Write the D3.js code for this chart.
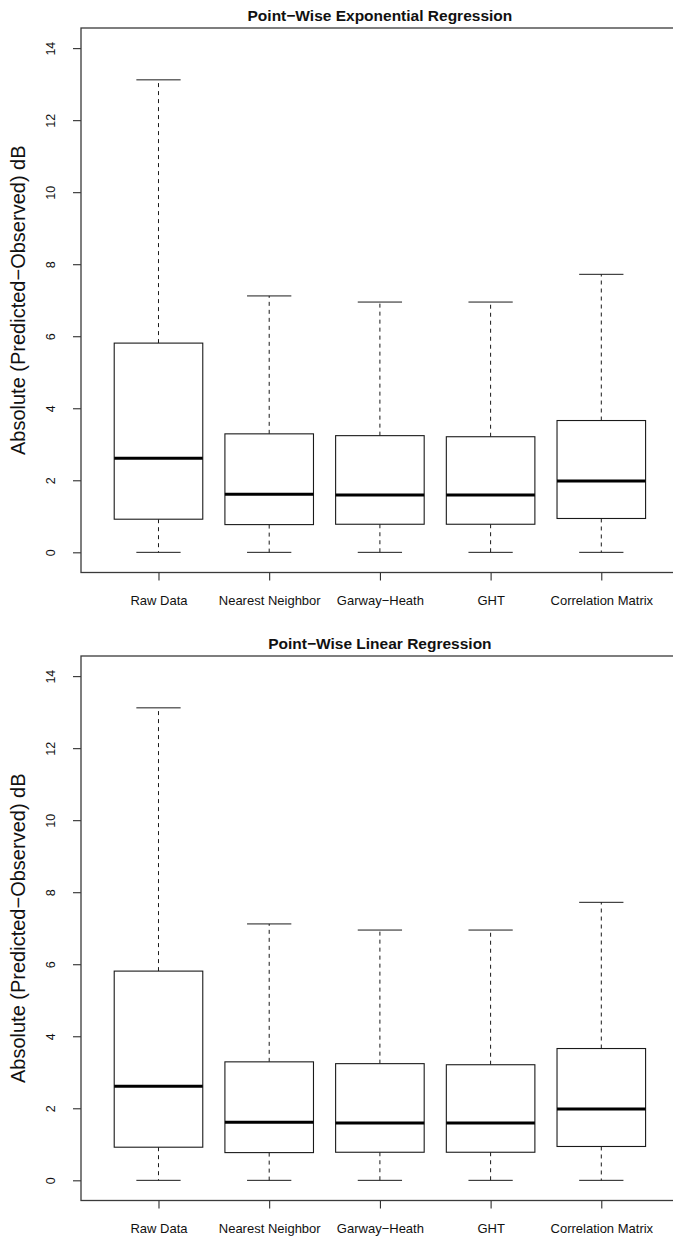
<!DOCTYPE html>
<html>
<head>
<meta charset="utf-8">
<script src="https://cdn.jsdelivr.net/npm/d3@7/dist/d3.min.js"></script>
<style>
  html, body { margin: 0; padding: 0; background: #fff; }
  svg { display: block; }
  text { font-family: "Liberation Sans", Arial, Helvetica, sans-serif; fill: #111; }
</style>
</head>
<body>
<svg id="chart" width="673" height="1237"></svg>
<script>
// ---------- data ----------
const categories = ["Raw Data", "Nearest Neighbor", "Garway\u2212Heath", "GHT", "Correlation Matrix"];
const panelTitles = ["Point\u2212Wise Exponential Regression", "Point\u2212Wise Linear Regression"];
const yLabel = "Absolute (Predicted\u2212Observed) dB";
const yTicks = [0, 2, 4, 6, 8, 10, 12, 14];

// panel 1: exponential regression
const expLower  = [0.00, 0.00, 0.00, 0.00, 0.00];
const expQ1     = [0.92, 0.77, 0.78, 0.78, 0.94];
const expMedian = [2.61, 1.61, 1.59, 1.59, 1.98];
const expQ3     = [5.81, 3.29, 3.24, 3.21, 3.66];
const expUpper  = [13.12, 7.12, 6.95, 6.95, 7.72];

// panel 2: linear regression
const linLower  = [0.00, 0.00, 0.00, 0.00, 0.00];
const linQ1     = [0.92, 0.77, 0.78, 0.78, 0.94];
const linMedian = [2.61, 1.61, 1.59, 1.59, 1.98];
const linQ3     = [5.81, 3.29, 3.24, 3.21, 3.66];
const linUpper  = [13.12, 7.12, 6.95, 6.95, 7.72];

const panels = [
  { title: panelTitles[0], lower: expLower, q1: expQ1, med: expMedian, q3: expQ3, upper: expUpper, top: 28, bottom: 572.5 },
  { title: panelTitles[1], lower: linLower, q1: linQ1, med: linMedian, q3: linQ3, upper: linUpper, top: 656, bottom: 1200.5 }
];

// ---------- drawing ----------
const svg = d3.select("#chart");
const left = 81, right = 678.8;
const ink = "#1a1a1a";

const x = d3.scaleLinear().domain([0.3, categories.length + 0.7]).range([left, right]);
const unit = x(2) - x(1);
const boxW = 0.8 * unit;
const capW = 0.4 * unit;

panels.forEach(p => {
  const g = svg.append("g");
  const y = d3.scaleLinear().domain([-0.56, 14.56]).range([p.bottom, p.top]);

  // title
  g.append("text")
    .attr("x", (left + right) / 2)
    .attr("y", p.top - 7)
    .attr("text-anchor", "middle")
    .attr("font-weight", "bold")
    .attr("font-size", 15.5)
    .text(p.title);

  // y axis
  const ya = g.append("g")
    .attr("transform", `translate(${left},0)`)
    .call(d3.axisLeft(y).tickValues(yTicks).tickSize(8).tickFormat(d3.format("d")));
  ya.select(".domain").remove();
  ya.selectAll(".tick line").attr("stroke", ink);
  ya.selectAll(".tick text")
    .attr("font-size", 12.5)
    .attr("font-family", "Liberation Sans, Arial, sans-serif")
    .attr("fill", ink)
    .attr("x", 0).attr("dy", 0)
    .attr("transform", "translate(-30,0) rotate(-90)")
    .attr("text-anchor", "middle")
    .attr("dominant-baseline", "central");

  // y axis label
  g.append("text")
    .attr("transform", `translate(25,${(p.top + p.bottom) / 2}) rotate(-90)`)
    .attr("text-anchor", "middle")
    .attr("font-size", 20)
    .text(yLabel);

  // x axis
  const xa = g.append("g")
    .attr("transform", `translate(0,${p.bottom})`)
    .call(d3.axisBottom(x).tickValues(d3.range(1, categories.length + 1)).tickSize(8)
      .tickFormat(i => categories[i - 1]));
  xa.select(".domain").remove();
  xa.selectAll(".tick line").attr("stroke", ink);
  xa.selectAll(".tick text")
    .attr("font-size", 13)
    .attr("font-family", "Liberation Sans, Arial, sans-serif")
    .attr("fill", ink)
    .attr("y", 0).attr("dy", 0)
    .attr("transform", "translate(0,32)");

  // frame
  g.append("rect")
    .attr("x", left).attr("y", p.top)
    .attr("width", right - left).attr("height", p.bottom - p.top)
    .attr("fill", "none").attr("stroke", "#3a3a3a").attr("stroke-width", 1.3);

  // boxes
  const data = categories.map((c, i) => ({
    i: i + 1, lo: p.lower[i], q1: p.q1[i], med: p.med[i], q3: p.q3[i], hi: p.upper[i]
  }));
  const b = g.selectAll(".bx").data(data).join("g").attr("class", "bx");

  // whiskers (dashed)
  b.append("line")
    .attr("x1", d => x(d.i)).attr("x2", d => x(d.i))
    .attr("y1", d => y(d.q3)).attr("y2", d => y(d.hi))
    .attr("stroke", ink).attr("stroke-dasharray", "4,4");
  b.append("line")
    .attr("x1", d => x(d.i)).attr("x2", d => x(d.i))
    .attr("y1", d => y(d.q1)).attr("y2", d => y(d.lo))
    .attr("stroke", ink).attr("stroke-dasharray", "4,4");
  // caps
  b.append("line")
    .attr("x1", d => x(d.i) - capW / 2).attr("x2", d => x(d.i) + capW / 2)
    .attr("y1", d => y(d.hi)).attr("y2", d => y(d.hi))
    .attr("stroke", ink);
  b.append("line")
    .attr("x1", d => x(d.i) - capW / 2).attr("x2", d => x(d.i) + capW / 2)
    .attr("y1", d => y(d.lo)).attr("y2", d => y(d.lo))
    .attr("stroke", ink);
  // box
  b.append("rect")
    .attr("x", d => x(d.i) - boxW / 2).attr("width", boxW)
    .attr("y", d => y(d.q3)).attr("height", d => y(d.q1) - y(d.q3))
    .attr("fill", "#fff").attr("stroke", ink).attr("stroke-width", 1.1);
  // median
  b.append("line")
    .attr("x1", d => x(d.i) - boxW / 2).attr("x2", d => x(d.i) + boxW / 2)
    .attr("y1", d => y(d.med)).attr("y2", d => y(d.med))
    .attr("stroke", "#000").attr("stroke-width", 3);
});
</script>
</body>
</html>
